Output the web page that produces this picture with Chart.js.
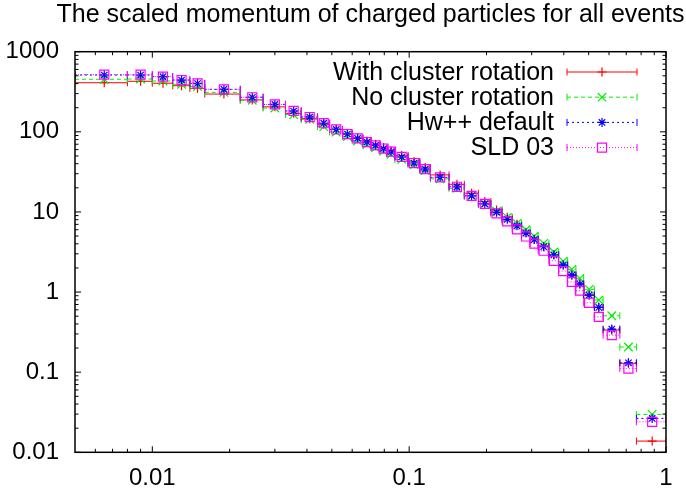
<!DOCTYPE html>
<html>
<head>
<meta charset="utf-8">
<script src="https://cdn.jsdelivr.net/npm/chart.js@4.4.1/dist/chart.umd.min.js"></script>
<style>
  html, body { margin: 0; padding: 0; background: #fff; }
  #wrap { width: 686px; height: 491px; }
</style>
</head>
<body>
<div id="wrap"><canvas id="myChart" width="686" height="491"></canvas></div>
<script>
// bin edges in x_p (scaled momentum)
const binEdges = [0.005, 0.008, 0.010, 0.012, 0.014, 0.016, 0.022, 0.027, 0.033, 0.038,
  0.044, 0.049, 0.055, 0.060, 0.066, 0.071, 0.077, 0.082, 0.088, 0.099,
  0.110, 0.121, 0.143, 0.164, 0.186, 0.208, 0.230, 0.252, 0.274, 0.296,
  0.318, 0.350, 0.382, 0.414, 0.446, 0.478, 0.526, 0.569, 0.661, 0.767, 1.0];

const withRotation = [410, 427, 404, 376, 349, 296, 250, 205, 170, 146,
  124, 107, 94, 84.2, 76.8, 69.8, 63.7, 58.0, 50.6, 42.6,
  35.8, 29.0, 22.1, 17.1, 13.5, 10.6, 8.56, 7.02, 5.53, 4.59,
  3.74, 2.94, 2.20, 1.63, 1.26, 0.917, 0.644, 0.335, 0.129, 0.0138];

const noRotation = [453, 456, 431, 392, 368, 311, 248, 198, 164, 143,
  116, 99.6, 87.5, 77.3, 69.5, 63.1, 57.6, 52.5, 45.2, 39.1,
  32.9, 25.9, 19.7, 15.9, 12.6, 10.2, 8.56, 7.20, 5.99, 4.97,
  4.06, 3.16, 2.43, 1.92, 1.48, 1.08, 0.795, 0.506, 0.206, 0.0297];

const hwDefault = [512, 512, 488, 443, 401, 339, 270, 220, 182, 153,
  128, 107, 93.9, 83.0, 74.6, 67.8, 61.9, 56.4, 48.5, 40.8,
  34.3, 27.0, 20.6, 15.9, 12.6, 9.89, 8.08, 6.72, 5.45, 4.52,
  3.68, 2.90, 2.17, 1.63, 1.26, 0.917, 0.644, 0.345, 0.131, 0.0265];

const sld03 = [517, 517, 488, 443, 401, 339, 270, 220, 182, 153,
  128, 107, 93.9, 83.0, 74.6, 67.8, 61.9, 56.4, 48.5, 40.8,
  34.3, 27.0, 20.6, 15.9, 12.6, 9.62, 7.63, 6.06, 4.94, 4.03,
  3.28, 2.45, 1.83, 1.34, 1.04, 0.735, 0.491, 0.290, 0.111, 0.0240];

const seriesNames = ['With cluster rotation', 'No cluster rotation', 'Hw++ default', 'SLD 03'];
const chartTitle = 'The scaled momentum of charged particles for all events';

const xTickValues = [0.006, 0.007, 0.008, 0.009, 0.01, 0.02, 0.03, 0.04, 0.05, 0.06, 0.07, 0.08, 0.09,
  0.1, 0.2, 0.3, 0.4, 0.5, 0.6, 0.7, 0.8, 0.9, 1];
const yDecades = [0.01, 0.1, 1, 10, 100, 1000];

const FONT = '"Liberation Sans", Arial, sans-serif';
Chart.defaults.font.family = FONT;
Chart.defaults.color = '#000';

// gnuplot line types
const styles = [
  {color: '#ff0000', dash: [], pointStyle: 'cross', radius: 4.5},
  {color: '#00f000', dash: [4, 3], pointStyle: 'crossRot', radius: 6},
  {color: '#0000ff', dash: [2, 3], pointStyle: 'star', radius: 4.5},
  {color: '#ff00ff', dash: [1, 2], pointStyle: 'rect', radius: 6.4},
];
const allSeries = [withRotation, noRotation, hwDefault, sld03];

function isDecade(v) {
  const l = Math.log10(v);
  return Math.abs(l - Math.round(l)) < 1e-6;
}

function barPoints(vals) {
  const pts = [];
  vals.forEach((v, i) => {
    pts.push({x: binEdges[i], y: v}, {x: binEdges[i + 1], y: v}, {x: binEdges[i + 1], y: null});
  });
  return pts;
}
function centrePoints(vals) {
  return vals.map((v, i) => ({x: (binEdges[i] + binEdges[i + 1]) / 2, y: v}));
}

const datasets = [];
allSeries.forEach((vals, k) => {
  const s = styles[k];
  datasets.push({
    type: 'line',
    label: seriesNames[k] + ' bins',
    data: barPoints(vals),
    borderColor: s.color,
    borderWidth: 1,
    borderDash: s.dash,
    fill: false,
    tension: 0,
    spanGaps: false,
    pointStyle: 'line',
    pointRotation: 90,
    pointRadius: 3.5,
    pointBorderColor: s.color,
    pointBorderWidth: 1,
    order: 8 - k * 2,
  });
  datasets.push({
    type: 'scatter',
    label: seriesNames[k],
    data: centrePoints(vals),
    showLine: false,
    pointStyle: s.pointStyle,
    pointRadius: s.radius,
    pointBorderColor: s.color,
    pointBackgroundColor: 'rgba(0,0,0,0)',
    pointBorderWidth: 1.2,
    order: 7 - k * 2,
  });
});

// frame and inward ticks on all four sides, like gnuplot
const frameTicks = {
  id: 'frameTicks',
  afterDraw(chart) {
    const {ctx, chartArea: a, scales} = chart;
    ctx.save();
    ctx.strokeStyle = '#000';
    ctx.lineWidth = 1;
    ctx.setLineDash([]);
    const seg = (x1, y1, x2, y2) => { ctx.beginPath(); ctx.moveTo(x1, y1); ctx.lineTo(x2, y2); ctx.stroke(); };
    scales.x.ticks.forEach(t => {
      const px = scales.x.getPixelForValue(t.value);
      const len = isDecade(t.value) ? 6 : 3.5;
      seg(px, a.bottom, px, a.bottom - len);
      seg(px, a.top, px, a.top + len);
    });
    scales.y.ticks.forEach(t => {
      const py = scales.y.getPixelForValue(t.value);
      const len = isDecade(t.value) ? 6 : 3.5;
      seg(a.left, py, a.left + len, py);
      seg(a.right, py, a.right - len, py);
    });
    ctx.lineWidth = 1.5;
    ctx.strokeRect(a.left, a.top, a.right - a.left, a.bottom - a.top);
    ctx.restore();
  }
};

// title centred over the plot area (gnuplot puts it there, and it runs past the frame)
const plotTitle = {
  id: 'plotTitle',
  afterDraw(chart) {
    const {ctx, chartArea: a} = chart;
    ctx.save();
    ctx.font = '25px ' + FONT;
    ctx.fillStyle = '#000';
    ctx.textAlign = 'center';
    ctx.textBaseline = 'middle';
    ctx.fillText(chartTitle, (a.left + a.right) / 2, 15.5);
    ctx.restore();
  }
};

// gnuplot style key: text right aligned, then sample with error bar and point
const gnuKey = {
  id: 'gnuKey',
  afterDraw(chart) {
    const ctx = chart.ctx;
    ctx.save();
    seriesNames.forEach((name, k) => {
      const s = styles[k];
      const y = 72 + 25.2 * k;
      ctx.font = '25px ' + FONT;
      ctx.fillStyle = '#000';
      ctx.textAlign = 'right';
      ctx.textBaseline = 'middle';
      ctx.fillText(name, 554, y + 1);
      ctx.strokeStyle = s.color;
      ctx.lineWidth = 1;
      ctx.setLineDash(s.dash);
      ctx.beginPath(); ctx.moveTo(567, y); ctx.lineTo(637, y); ctx.stroke();
      ctx.setLineDash([]);
      ctx.beginPath(); ctx.moveTo(567, y - 3.5); ctx.lineTo(567, y + 3.5); ctx.stroke();
      ctx.beginPath(); ctx.moveTo(637, y - 3.5); ctx.lineTo(637, y + 3.5); ctx.stroke();
      ctx.fillStyle = 'rgba(0,0,0,0)';
      ctx.lineWidth = 1.2;
      Chart.helpers.drawPoint(ctx, {pointStyle: s.pointStyle, radius: s.radius, rotation: 0, borderWidth: 1.2}, 602, y);
    });
    ctx.restore();
  }
};

const config = {
  type: 'scatter',
  data: {datasets: datasets},
  options: {
    responsive: false,
    animation: false,
    events: [],
    layout: {padding: {left: 0, right: 20, top: 51.7, bottom: 0}},
    scales: {
      x: {
        type: 'logarithmic',
        min: 0.005,
        max: 1,
        afterBuildTicks: (scale) => { scale.ticks = xTickValues.map(v => ({value: v})); },
        afterFit: (scale) => { scale.height = 38.7; },
        ticks: {
          autoSkip: false,
          maxRotation: 0,
          padding: 12,
          font: {size: 24},
          callback: (val) => isDecade(val) ? String(val) : '',
        },
        grid: {display: false, drawTicks: false},
        border: {display: false},
      },
      y: {
        type: 'logarithmic',
        min: 0.01,
        max: 1000,
        afterBuildTicks: (scale) => {
          const vals = [];
          yDecades.forEach((d, i) => {
            vals.push(d);
            if (i < yDecades.length - 1) {
              for (let m = 2; m <= 9; m++) vals.push(+(d * m).toPrecision(3));
            }
          });
          scale.ticks = vals.map(v => ({value: v}));
        },
        afterFit: (scale) => { scale.width = 75; },
        ticks: {
          autoSkip: false,
          padding: 16,
          font: {size: 24},
          callback: (val) => isDecade(val) ? String(val) : '',
        },
        grid: {display: false, drawTicks: false},
        border: {display: false},
      },
    },
    plugins: {
      legend: {display: false},
      tooltip: {enabled: false},
      title: {display: false},
    },
  },
  plugins: [frameTicks, plotTitle, gnuKey],
};

var ctx = document.getElementById('myChart').getContext('2d');
var myChart = new Chart(ctx, config);
</script>
</body>
</html>
